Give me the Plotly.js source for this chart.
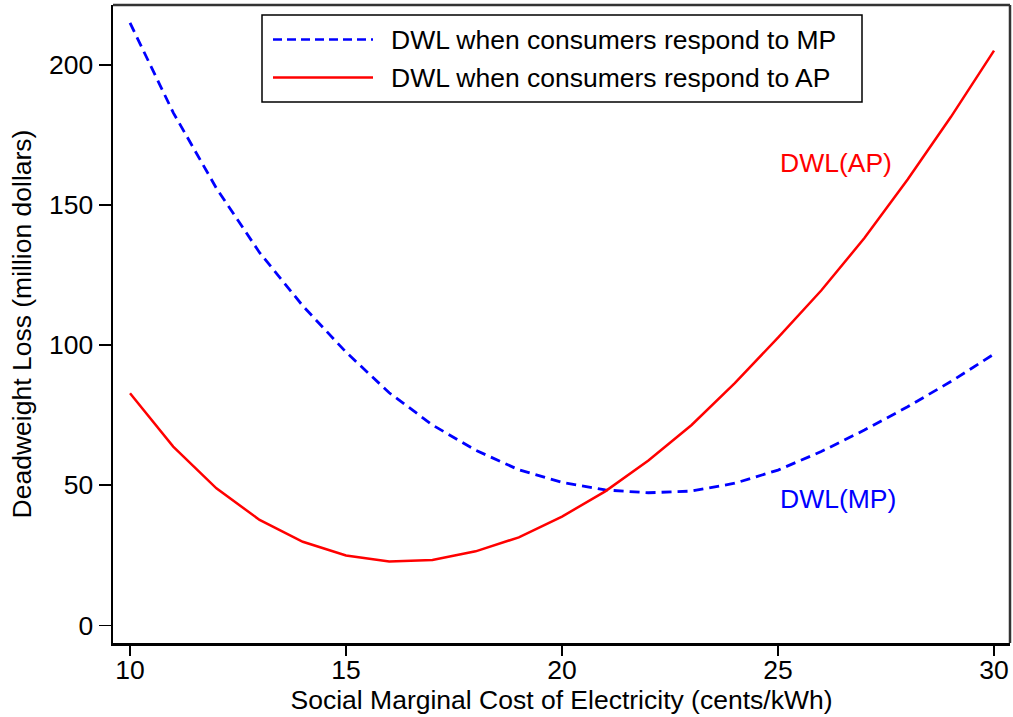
<!DOCTYPE html>
<html>
<head>
<meta charset="utf-8">
<script src="https://cdn.plot.ly/plotly-3.0.1.min.js"></script>
<style>html,body{margin:0;padding:0;background:#fff;}#chart{width:1013px;height:717px;}</style>
</head>
<body>
<div id="chart"></div>
<script>
// Social marginal cost of electricity (cents/kWh)
const smc = [10,11,12,13,14,15,16,17,18,19,20,21,22,23,24,25,26,27,28,29,30];
// DWL when consumers respond to MP (million dollars)
const dwlMP = [215,183,156,133,114,97.5,83,71.5,62.5,55.5,51,48.3,47.3,47.9,50.7,55.4,62,69.7,78,87,96.8];
// DWL when consumers respond to AP (million dollars)
const dwlAP = [82.8,63.8,48.9,37.6,29.8,24.9,22.8,23.3,26.4,31.4,38.8,47.8,58.8,71.5,86.4,102.7,119.5,138.2,159.1,181.4,205.1];
const xTicks = [10,15,20,25,30];
const yTicks = [0,50,100,150,200];
const legendLabels = ["DWL when consumers respond to MP","DWL when consumers respond to AP"];

const FONT = "Liberation Sans, Arial, Helvetica, sans-serif";
const FS = 26.5;

const traces = [
  {x: smc, y: dwlMP, mode: "lines", name: legendLabels[0],
   line: {color: "#0000ff", width: 2.8, dash: "10px,6px"}},
  {x: smc, y: dwlAP, mode: "lines", name: legendLabels[1],
   line: {color: "#ff0000", width: 2.5}}
];

// legend geometry in pixels -> paper coords
const W = 1013, H = 717, mL = 113, mR = 3, mT = 5, mB = 74;
const pw = W - mL - mR, ph = H - mT - mB;
const px = v => (v - mL) / pw;
const py = v => 1 - (v - mT) / ph;

const shapes = [
  {type: "rect", xref: "paper", yref: "paper", x0: px(262), x1: px(862), y0: py(102), y1: py(15),
   line: {color: "#000", width: 1.5}, fillcolor: "#fff", layer: "above"},
  {type: "line", xref: "paper", yref: "paper", x0: px(273), x1: px(373), y0: py(39.5), y1: py(39.5),
   line: {color: "#0000ff", width: 2.5, dash: "9px,5px"}},
  {type: "line", xref: "paper", yref: "paper", x0: px(273), x1: px(373), y0: py(77.5), y1: py(77.5),
   line: {color: "#ff0000", width: 2.5}},
  // top and right frame
  {type: "line", xref: "paper", yref: "paper", x0: 0, x1: 1, y0: 1, y1: 1, line: {color: "#333", width: 2.5}},
  {type: "line", xref: "paper", yref: "paper", x0: 1, x1: 1, y0: 0, y1: 1, line: {color: "#333", width: 2.5}}
];

const annotations = [
  {xref: "paper", yref: "paper", x: px(389), y: py(39.5), xanchor: "left", yanchor: "middle",
   text: legendLabels[0], showarrow: false, font: {family: FONT, size: FS, color: "#000"}},
  {xref: "paper", yref: "paper", x: px(389), y: py(77.5), xanchor: "left", yanchor: "middle",
   text: legendLabels[1], showarrow: false, font: {family: FONT, size: FS, color: "#000"}},
  {x: 25.0, y: 165, xanchor: "left", yanchor: "middle", text: "DWL(AP)", showarrow: false,
   font: {family: FONT, size: FS, color: "#ff0000"}},
  {x: 25.0, y: 45, xanchor: "left", yanchor: "middle", text: "DWL(MP)", showarrow: false,
   font: {family: FONT, size: FS, color: "#0000ff"}}
];

const layout = {
  width: W, height: H,
  margin: {l: mL, r: mR, t: mT, b: mB, pad: 0},
  paper_bgcolor: "#fff", plot_bgcolor: "#fff",
  font: {family: FONT, size: FS, color: "#000"},
  showlegend: false,
  xaxis: {
    range: [9.606, 30.37], tickvals: xTicks, ticktext: xTicks.map(String),
    showgrid: false, zeroline: false, showline: true, linecolor: "#000", linewidth: 2.5,
    ticks: "outside", ticklen: 10, tickwidth: 1.5, tickcolor: "#000",
    ticklabelstandoff: -8,
    tickfont: {family: FONT, size: FS, color: "#000"},
    title: {text: "Social Marginal Cost of Electricity (cents/kWh)", font: {family: FONT, size: FS, color: "#000"}, standoff: 0}
  },
  yaxis: {
    range: [-6.32, 221.4], tickvals: yTicks, ticktext: yTicks.map(String),
    showgrid: false, zeroline: false, showline: true, linecolor: "#000", linewidth: 2.5,
    ticks: "outside", ticklen: 12, tickwidth: 1.5, tickcolor: "#000",
    tickfont: {family: FONT, size: FS, color: "#000"},
    title: {text: "Deadweight Loss (million dollars)", font: {family: FONT, size: FS, color: "#000"}, standoff: 10}
  },
  shapes: shapes,
  annotations: annotations
};

Plotly.newPlot("chart", traces, layout, {displayModeBar: false, staticPlot: true});
</script>
</body>
</html>
